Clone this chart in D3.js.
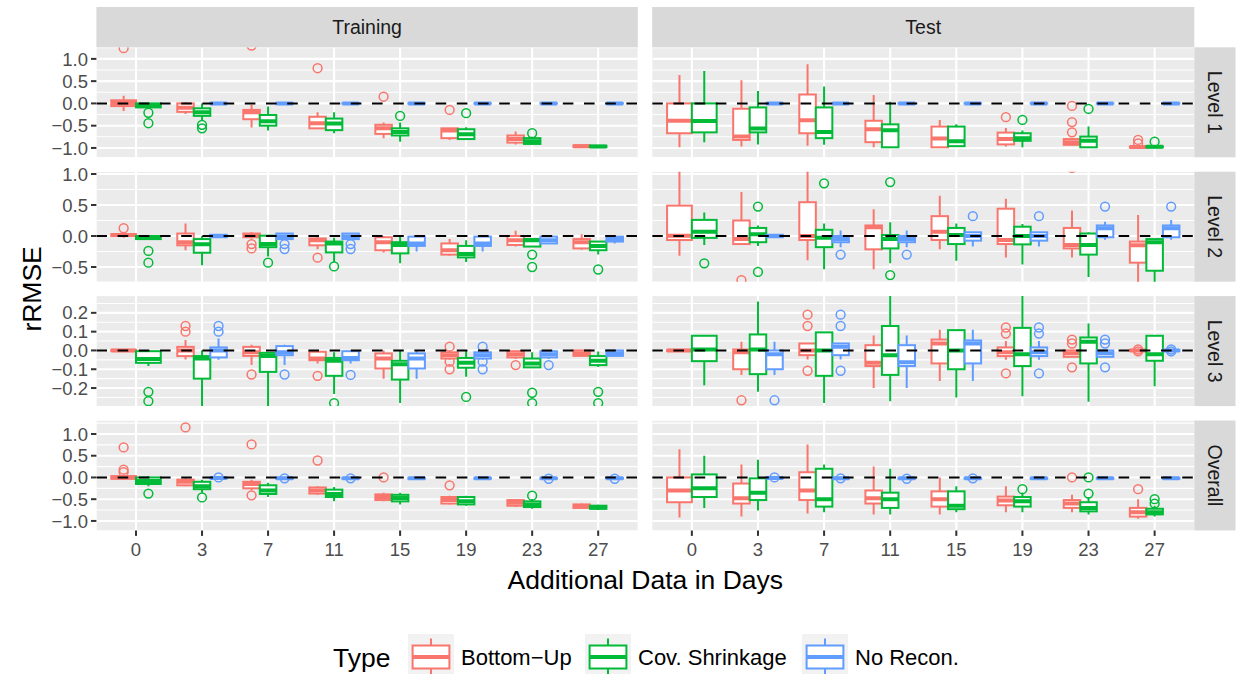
<!DOCTYPE html>
<html><head><meta charset="utf-8">
<script src="https://cdn.jsdelivr.net/npm/d3@7"></script>
<style>body{margin:0;background:#fff} svg{display:block} text{font-family:"Liberation Sans",Arial,Helvetica,sans-serif}</style>
</head><body><svg id="c" width="1238" height="674"></svg>
<script>
// ---------- categories ----------
const days = ["0","3","7","11","15","19","23","27"];
const typeNames = ["Bottom−Up","Cov. Shrinkage","No Recon."];
const typeColors = ["#F8766D","#00BA38","#619CFF"];
const colNames = ["Training","Test"];
const rowNames = ["Level 1","Level 2","Level 3","Overall"];
const yTicks = [[-1,-0.5,0,0.5,1],[-0.5,0,0.5,1],[-0.2,-0.1,0,0.1,0.2],[-1,-0.5,0,0.5,1]];
const yLimits = [[-1.21,1.26],[-0.737,1.037],[-0.296,0.289],[-1.22,1.31]];

// ---------- box statistics: [lower whisker, q1, median, q3, upper whisker, outliers] per day ----------
const Z = [-0.005,-0.003,0,0.003,0.005,[]];
// Training, Level 1
const tr1_bu = [[-0.17,-0.06,0.01,0.07,0.17,[1.24]],[-0.24,-0.19,-0.1,0.0,0.03,[]],[-0.54,-0.355,-0.2,-0.146,-0.03,[1.3]],[-0.56,-0.56,-0.445,-0.3,-0.2,[0.79]],[-0.78,-0.685,-0.56,-0.48,-0.43,[0.15]],[-0.82,-0.78,-0.61,-0.56,-0.56,[-0.146]],[-0.92,-0.88,-0.8,-0.72,-0.63,[]],[-0.99,-0.98,-0.96,-0.94,-0.93,[]]];
const tr1_cs = [[-0.11,-0.09,-0.04,0.0,0.01,[-0.21,-0.445]],[-0.37,-0.28,-0.2,-0.11,0.0,[-0.48,-0.56]],[-0.61,-0.5,-0.4,-0.26,-0.07,[]],[-0.67,-0.6,-0.45,-0.34,-0.2,[]],[-0.86,-0.72,-0.64,-0.56,-0.43,[-0.28]],[-0.82,-0.8,-0.69,-0.58,-0.535,[-0.22]],[-0.92,-0.91,-0.85,-0.78,-0.75,[-0.67]],[-0.99,-0.98,-0.965,-0.95,-0.94,[]]];
const tr1_nr = [null,Z,Z,Z,Z,Z,Z,Z];
// Test, Level 1
const te1_bu = [[-0.985,-0.67,-0.39,0.0,0.64,[]],[-0.97,-0.82,-0.745,-0.12,0.52,[]],[-0.95,-0.67,-0.38,0.2,0.88,[]],[-0.985,-0.87,-0.58,-0.39,0.19,[]],[-0.985,-0.985,-0.79,-0.52,-0.37,[]],[-0.97,-0.92,-0.8,-0.655,-0.55,[-0.31]],[-0.94,-0.93,-0.87,-0.8,-0.78,[-0.056,-0.42,-0.65]],[-1.0,-0.99,-0.98,-0.97,-0.96,[-0.82,-0.9]]];
const te1_cs = [[-0.87,-0.65,-0.395,0.0,0.73,[]],[-0.92,-0.65,-0.565,-0.09,0.28,[]],[-0.93,-0.78,-0.64,-0.09,0.38,[]],[-0.985,-0.985,-0.6,-0.47,0.04,[]],[-0.96,-0.96,-0.85,-0.52,-0.47,[]],[-0.985,-0.84,-0.78,-0.67,-0.61,[-0.37]],[-0.985,-0.985,-0.84,-0.745,-0.52,[-0.124]],[-0.99,-0.985,-0.975,-0.965,-0.95,[-0.86]]];
const te1_nr = [null,Z,Z,Z,Z,Z,Z,Z];
// Training, Level 2
const tr2_bu = [[-0.03,-0.0,0.015,0.03,0.05,[0.125]],[-0.23,-0.15,-0.1,0.04,0.2,[]],[-0.04,-0.02,0.01,0.04,0.06,[-0.13,-0.2]],[-0.215,-0.15,-0.07,-0.04,0.0,[-0.35]],[-0.265,-0.23,-0.1,-0.02,0.0,[]],[-0.32,-0.3,-0.23,-0.12,-0.05,[]],[-0.17,-0.145,-0.07,0.0,0.086,[]],[-0.22,-0.2,-0.1,-0.05,0.03,[]]];
const tr2_cs = [[-0.065,-0.05,-0.02,0.0,0.016,[-0.24,-0.43]],[-0.47,-0.27,-0.135,-0.05,0.0,[]],[-0.33,-0.18,-0.13,0.005,0.01,[-0.43]],[-0.42,-0.265,-0.12,-0.09,-0.03,[-0.49]],[-0.44,-0.28,-0.145,-0.1,-0.01,[]],[-0.42,-0.345,-0.29,-0.16,-0.07,[]],[-0.17,-0.17,-0.07,-0.05,-0.05,[-0.3,-0.5]],[-0.3,-0.23,-0.16,-0.09,-0.09,[-0.54]]];
const tr2_nr = [null,[-0.02,-0.02,0.0,0.02,0.02,[]],[-0.05,-0.05,-0.01,0.04,0.04,[-0.13,-0.21]],[-0.05,-0.05,-0.01,0.04,0.04,[-0.13,-0.21]],[-0.25,-0.16,-0.12,-0.01,-0.01,[]],[-0.25,-0.16,-0.12,-0.01,-0.01,[]],[-0.13,-0.12,-0.07,-0.01,-0.01,[]],[-0.12,-0.09,-0.05,-0.01,-0.01,[]]];
// Test, Level 2
const te2_bu = [[-0.32,-0.065,0.005,0.49,1.1,[]],[-0.13,-0.13,-0.05,0.25,0.71,[-0.71]],[-0.39,-0.065,0.0,0.545,1.1,[]],[-0.535,-0.215,0.14,0.17,0.43,[]],[-0.215,-0.065,0.07,0.32,0.65,[]],[-0.345,-0.13,-0.065,0.44,0.6,[]],[-0.345,-0.2,-0.145,0.13,0.41,[1.1]],[-0.8,-0.43,-0.15,-0.09,0.34,[]]];
const te2_cs = [[-0.145,-0.03,0.07,0.26,0.38,[-0.44]],[-0.16,-0.1,0.03,0.13,0.17,[0.475,-0.58]],[-0.535,-0.18,-0.03,0.1,0.2,[0.85]],[-0.44,-0.2,-0.05,0.016,0.22,[0.87,-0.63]],[-0.4,-0.13,0.016,0.13,0.2,[]],[-0.46,-0.135,0.0,0.15,0.195,[]],[-0.66,-0.3,-0.145,0.04,0.06,[]],[-0.8,-0.56,-0.1,-0.05,-0.05,[]]];
const te2_nr = [null,[-0.03,-0.02,0.0,0.02,0.03,[]],[-0.18,-0.1,-0.05,0.0,0.09,[-0.3]],[-0.18,-0.1,-0.05,0.0,0.09,[-0.3]],[-0.17,-0.075,0.0,0.06,0.06,[0.32]],[-0.17,-0.075,0.0,0.06,0.06,[0.32]],[-0.06,-0.02,0.125,0.17,0.23,[0.475]],[-0.06,-0.02,0.125,0.17,0.26,[0.475]]];
// Training, Level 3
const tr3_bu = [Z,[-0.048,-0.03,0.0,0.019,0.055,[0.13,0.1]],[-0.078,-0.029,-0.01,0.019,0.03,[-0.128]],[-0.07,-0.052,-0.043,-0.007,-0.007,[-0.135]],[-0.15,-0.096,-0.043,-0.016,0.0,[]],[-0.05,-0.043,-0.025,-0.01,0.0,[0.02,-0.06,-0.1]],[-0.045,-0.037,-0.02,-0.004,-0.004,[-0.078]],[-0.03,-0.029,-0.015,0.0,0.0,[]]];
const tr3_cs = [[-0.083,-0.066,-0.046,-0.004,-0.004,[-0.22,-0.27]],[-0.3,-0.15,-0.043,-0.03,0.0,[]],[-0.3,-0.114,-0.029,-0.013,-0.013,[]],[-0.232,-0.135,-0.055,-0.04,-0.01,[-0.28]],[-0.28,-0.155,-0.073,-0.055,0.0,[]],[-0.14,-0.092,-0.066,-0.04,0.0,[-0.247]],[-0.09,-0.09,-0.07,-0.043,-0.01,[-0.225,-0.28]],[-0.088,-0.078,-0.055,-0.03,-0.005,[-0.22,-0.28]]];
const tr3_nr = [null,[-0.05,-0.037,0.0,0.016,0.064,[0.13,0.1]],[-0.078,-0.025,-0.01,0.023,0.03,[-0.128]],[-0.07,-0.052,-0.04,-0.004,-0.004,[-0.13]],[-0.15,-0.096,-0.043,-0.016,0.0,[]],[-0.05,-0.043,-0.025,-0.01,0.0,[0.02,-0.06,-0.1]],[-0.045,-0.037,-0.02,-0.004,-0.004,[-0.078]],[-0.03,-0.029,-0.015,0.0,0.0,[]]];
// Test, Level 3
const te3_bu = [Z,[-0.13,-0.1,-0.01,0.005,0.046,[-0.265]],[-0.048,-0.025,0.0,0.037,0.037,[0.19,0.13,-0.108]],[-0.2,-0.083,-0.066,0.028,0.08,[]],[-0.163,-0.069,0.037,0.058,0.11,[]],[-0.05,-0.03,-0.01,0.016,0.05,[0.122,0.09,-0.122]],[-0.034,-0.034,-0.015,0.0,0.0,[0.058,0.037,-0.09]],[-0.005,-0.003,0.0,0.003,0.005,[0.005,-0.005]]];
const te3_cs = [[-0.185,-0.057,0.005,0.078,0.078,[]],[-0.22,-0.126,0.005,0.085,0.26,[]],[-0.28,-0.135,0.0,0.096,0.096,[]],[-0.27,-0.13,-0.025,0.13,0.3,[]],[-0.25,-0.1,0.0,0.108,0.108,[]],[-0.243,-0.083,-0.02,0.12,0.3,[]],[-0.273,-0.069,0.046,0.069,0.143,[]],[-0.19,-0.055,-0.02,0.078,0.078,[]]];
const te3_nr = [null,[-0.13,-0.1,-0.02,0.0,0.046,[-0.265]],[-0.048,-0.025,0.02,0.037,0.037,[0.19,0.13,-0.108]],[-0.2,-0.083,-0.063,0.028,0.08,[]],[-0.163,-0.069,0.037,0.053,0.11,[]],[-0.05,-0.03,-0.01,0.016,0.05,[0.122,0.09,-0.122]],[-0.034,-0.034,-0.015,0.0,0.0,[0.058,0.037,-0.09]],[-0.005,-0.003,0.0,0.003,0.005,[0.005,-0.005]]];
// Training, Overall
const tr4_bu = [[-0.05,-0.03,0.0,0.03,0.05,[0.69,0.18,0.12]],[-0.2,-0.18,-0.1,-0.05,0.0,[1.15]],[-0.3,-0.25,-0.15,-0.1,-0.05,[0.76,-0.41]],[-0.4,-0.37,-0.3,-0.23,-0.2,[0.39]],[-0.55,-0.52,-0.45,-0.39,-0.35,[0.0]],[-0.62,-0.6,-0.52,-0.45,-0.42,[-0.18]],[-0.68,-0.65,-0.58,-0.52,-0.5,[]],[-0.72,-0.7,-0.66,-0.62,-0.6,[]]];
const tr4_cs = [[-0.2,-0.15,-0.08,0.0,0.02,[-0.37]],[-0.35,-0.27,-0.2,-0.1,-0.05,[-0.46]],[-0.45,-0.38,-0.3,-0.18,-0.12,[]],[-0.55,-0.45,-0.38,-0.28,-0.22,[]],[-0.62,-0.55,-0.47,-0.4,-0.35,[]],[-0.65,-0.62,-0.55,-0.45,-0.42,[]],[-0.72,-0.68,-0.62,-0.55,-0.5,[-0.42]],[-0.75,-0.72,-0.69,-0.65,-0.63,[]]];
const tr4_nr = [null,[-0.03,-0.02,-0.01,0.0,0.0,[0.0]],[-0.04,-0.03,-0.02,-0.01,0.0,[-0.02]],[-0.04,-0.03,-0.02,-0.01,0.0,[-0.02]],[-0.04,-0.03,-0.02,-0.01,0.0,[]],[-0.04,-0.03,-0.02,-0.01,0.0,[]],[-0.04,-0.03,-0.02,-0.01,0.0,[-0.03]],[-0.04,-0.03,-0.02,-0.01,0.0,[-0.03]]];
// Test, Overall
const te4_bu = [[-0.92,-0.57,-0.3,0.0,0.65,[]],[-0.9,-0.6,-0.48,-0.14,0.3,[]],[-0.83,-0.52,-0.3,0.12,0.76,[]],[-0.85,-0.6,-0.48,-0.3,0.25,[]],[-0.85,-0.67,-0.5,-0.32,0.0,[]],[-0.8,-0.64,-0.53,-0.44,-0.2,[]],[-0.8,-0.7,-0.6,-0.52,-0.4,[0.0]],[-0.95,-0.9,-0.8,-0.7,-0.5,[-0.27]]];
const te4_cs = [[-0.7,-0.45,-0.25,0.07,0.5,[]],[-0.76,-0.52,-0.35,-0.02,0.41,[]],[-0.8,-0.67,-0.5,0.2,0.3,[]],[-0.85,-0.7,-0.5,-0.35,0.2,[]],[-0.8,-0.73,-0.65,-0.32,-0.2,[]],[-0.8,-0.67,-0.55,-0.45,-0.35,[-0.27]],[-0.85,-0.78,-0.7,-0.57,-0.45,[-0.37,0.0]],[-0.9,-0.85,-0.8,-0.72,-0.65,[-0.5,-0.6]]];
const te4_nr = [null,[-0.03,-0.02,-0.01,0.0,0.0,[0.0]],[-0.04,-0.03,-0.02,-0.01,0.0,[-0.02]],[-0.04,-0.03,-0.02,-0.01,0.0,[-0.03]],[-0.04,-0.03,-0.02,-0.01,0.0,[-0.02]],[-0.04,-0.03,-0.02,-0.01,0.0,[]],[-0.04,-0.03,-0.02,-0.01,0.0,[]],[-0.04,-0.03,-0.02,-0.01,0.0,[]]];

const panelData = [
  [[tr1_bu,tr1_cs,tr1_nr],[te1_bu,te1_cs,te1_nr]],
  [[tr2_bu,tr2_cs,tr2_nr],[te2_bu,te2_cs,te2_nr]],
  [[tr3_bu,tr3_cs,tr3_nr],[te3_bu,te3_cs,te3_nr]],
  [[tr4_bu,tr4_cs,tr4_nr],[te4_bu,te4_cs,te4_nr]]
];

// ---------- layout ----------
const colX = [[96.4,637.8],[652.2,1194.3]];
const rowY = [[47.3,157.3],[171.7,281.7],[296.1,406.1],[420.5,530.5]];
const stripTop = [7,47.3], stripRight = [1194.3,1235.5];
const svg = d3.select("#c");
const defs = svg.append("defs");
const fmt = v => (v < 0 ? "\u2212" : "") + Math.abs(v).toFixed(1);
const LW = 2.0;
const TICK_FS = 18.5, STRIP_FS = 19.5, TITLE_FS = 26.5, LEG_FS = 22;

rowNames.forEach((rn, r) => {
  colNames.forEach((cn, c) => {
    const [x0, x1] = colX[c], [y0, y1] = rowY[r];
    const x = d3.scalePoint().domain(days).range([x0, x1]).padding(0.6);
    const y = d3.scaleLinear().domain(yLimits[r]).range([y1, y0]);
    const id = `clip${r}${c}`;
    defs.append("clipPath").attr("id", id).append("rect")
      .attr("x", x0).attr("y", y0).attr("width", x1 - x0).attr("height", y1 - y0);
    const g = svg.append("g").attr("clip-path", `url(#${id})`);
    g.append("rect").attr("x", x0).attr("y", y0).attr("width", x1 - x0).attr("height", y1 - y0).attr("fill", "#EBEBEB");
    // minor grid
    const tk = yTicks[r], st = tk[1] - tk[0];
    const minors = [];
    for (let v = tk[0] - st / 2; v <= tk[tk.length - 1] + st / 2 + 1e-9; v += st) minors.push(v);
    g.selectAll(".mn").data(minors.filter(v => v >= yLimits[r][0] && v <= yLimits[r][1])).enter().append("line")
      .attr("x1", x0).attr("x2", x1).attr("y1", d => y(d)).attr("y2", d => y(d))
      .attr("stroke", "#fff").attr("stroke-width", 1.1);
    g.selectAll(".mj").data(tk).enter().append("line")
      .attr("x1", x0).attr("x2", x1).attr("y1", d => y(d)).attr("y2", d => y(d))
      .attr("stroke", "#fff").attr("stroke-width", 2.1);
    g.selectAll(".vx").data(days).enter().append("line")
      .attr("x1", d => x(d)).attr("x2", d => x(d)).attr("y1", y0).attr("y2", y1)
      .attr("stroke", "#fff").attr("stroke-width", 2.1);
    // boxplots
    const step = x.step();
    days.forEach((d, i) => {
      const present = [0, 1, 2].filter(k => panelData[r][c][k][i]);
      const n = present.length, w = 0.75 * step / n;
      present.forEach((k, j) => {
        const s = panelData[r][c][k][i];
        const cx = x(d) + (j - (n - 1) / 2) * w;
        const col = typeColors[k];
        const bg = g.append("g");
        bg.selectAll("circle").data(s[5]).enter().append("circle")
          .attr("cx", cx).attr("cy", v => y(v)).attr("r", 4.4)
          .attr("fill", "none").attr("stroke", col).attr("stroke-width", 1.5);
        bg.append("line").attr("x1", cx).attr("x2", cx).attr("y1", y(s[3])).attr("y2", y(s[4]))
          .attr("stroke", col).attr("stroke-width", LW);
        bg.append("line").attr("x1", cx).attr("x2", cx).attr("y1", y(s[1])).attr("y2", y(s[0]))
          .attr("stroke", col).attr("stroke-width", LW);
        bg.append("rect").attr("x", cx - w / 2).attr("width", w)
          .attr("y", y(s[3])).attr("height", Math.max(0, y(s[1]) - y(s[3])))
          .attr("fill", "#fff").attr("stroke", col).attr("stroke-width", LW);
        bg.append("line").attr("x1", cx - w / 2).attr("x2", cx + w / 2).attr("y1", y(s[2])).attr("y2", y(s[2]))
          .attr("stroke", col).attr("stroke-width", LW * 2);
      });
    });
    // reference line at 0
    g.append("line").attr("x1", x0).attr("x2", x1).attr("y1", y(0)).attr("y2", y(0))
      .attr("stroke", "#000").attr("stroke-width", 2).attr("stroke-dasharray", "10.6,10.6");

    // y axis on left column
    if (c === 0) {
      const ga = svg.append("g");
      tk.forEach(v => {
        ga.append("line").attr("x1", x0 - 5.4).attr("x2", x0).attr("y1", y(v)).attr("y2", y(v))
          .attr("stroke", "#333").attr("stroke-width", 2);
        ga.append("text").attr("x", x0 - 8.4).attr("y", y(v)).attr("dy", "0.36em")
          .attr("text-anchor", "end").attr("font-size", TICK_FS).attr("fill", "#4D4D4D").text(fmt(v));
      });
    }
    // x axis on bottom row
    if (r === rowNames.length - 1) {
      const ga = svg.append("g");
      days.forEach(d => {
        ga.append("line").attr("x1", x(d)).attr("x2", x(d)).attr("y1", y1).attr("y2", y1 + 5.4)
          .attr("stroke", "#333").attr("stroke-width", 2);
        ga.append("text").attr("x", x(d)).attr("y", y1 + 25.5)
          .attr("text-anchor", "middle").attr("font-size", TICK_FS).attr("fill", "#4D4D4D").text(d);
      });
    }
    // top strips
    if (r === 0) {
      svg.append("rect").attr("x", x0).attr("y", stripTop[0]).attr("width", x1 - x0).attr("height", stripTop[1] - stripTop[0]).attr("fill", "#D9D9D9");
      svg.append("text").attr("x", (x0 + x1) / 2).attr("y", (stripTop[0] + stripTop[1]) / 2).attr("dy", "0.36em")
        .attr("text-anchor", "middle").attr("font-size", STRIP_FS).attr("fill", "#1A1A1A").text(cn);
    }
    // right strips
    if (c === colNames.length - 1) {
      svg.append("rect").attr("x", stripRight[0]).attr("y", y0).attr("width", stripRight[1] - stripRight[0]).attr("height", y1 - y0).attr("fill", "#D9D9D9");
      const cxs = (stripRight[0] + stripRight[1]) / 2, cys = (y0 + y1) / 2;
      svg.append("text").attr("transform", `translate(${cxs},${cys}) rotate(90)`).attr("dy", "0.36em")
        .attr("text-anchor", "middle").attr("font-size", STRIP_FS).attr("fill", "#1A1A1A").text(rn);
    }
  });
});

// axis titles
svg.append("text").attr("x", (colX[0][0] + colX[1][1]) / 2).attr("y", 589).attr("text-anchor", "middle")
  .attr("font-size", TITLE_FS).attr("fill", "#000").text("Additional Data in Days");
svg.append("text").attr("transform", `translate(41,${(rowY[0][0] + rowY[3][1]) / 2}) rotate(-90)`).attr("text-anchor", "middle")
  .attr("font-size", TITLE_FS).attr("fill", "#000").text("rRMSE");

// legend
const lg = svg.append("g");
const legY = 657, keyS = 46;
lg.append("text").attr("x", 333).attr("y", legY).attr("dy", "0.36em").attr("font-size", TITLE_FS).attr("fill", "#000").text("Type");
const keyX = [408, 585, 802];
typeNames.forEach((t, k) => {
  const kx = keyX[k], ky = legY - keyS / 2, col = typeColors[k];
  lg.append("rect").attr("x", kx).attr("y", ky).attr("width", keyS).attr("height", keyS).attr("fill", "#F2F2F2");
  lg.append("line").attr("x1", kx + keyS / 2).attr("x2", kx + keyS / 2).attr("y1", ky + keyS * 0.1).attr("y2", ky + keyS * 0.9).attr("stroke", col).attr("stroke-width", LW);
  lg.append("rect").attr("x", kx + keyS * 0.1).attr("y", ky + keyS * 0.25).attr("width", keyS * 0.8).attr("height", keyS * 0.5).attr("fill", "#fff").attr("stroke", col).attr("stroke-width", LW);
  lg.append("line").attr("x1", kx + keyS * 0.1).attr("x2", kx + keyS * 0.9).attr("y1", ky + keyS / 2).attr("y2", ky + keyS / 2).attr("stroke", col).attr("stroke-width", LW * 2);
  lg.append("text").attr("x", kx + keyS + 7).attr("y", legY).attr("dy", "0.36em").attr("font-size", LEG_FS).attr("fill", "#000").text(t);
});
</script></body></html>
